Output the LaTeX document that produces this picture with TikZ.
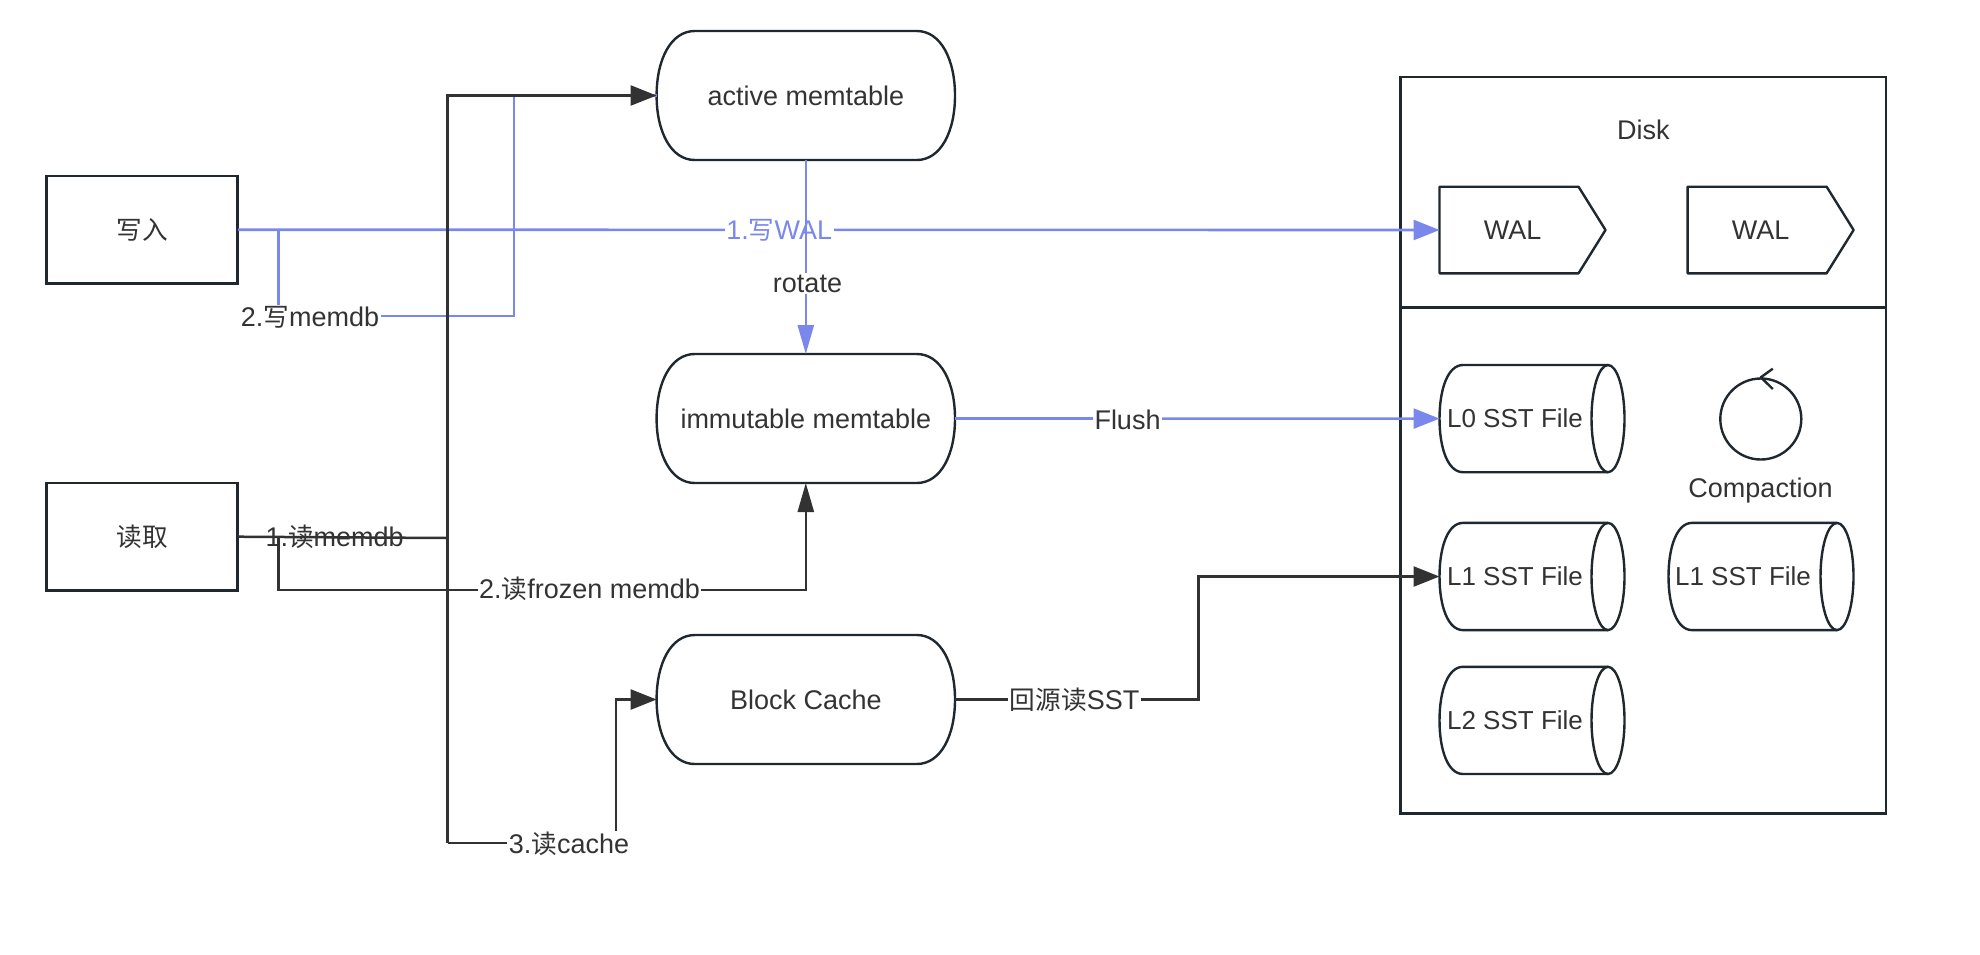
\documentclass[tikz,border=0pt]{standalone}
\usepackage{fontspec}
\setmainfont{Liberation Sans}
\newfontfamily\cjk[Scale=0.95]{Noto Sans CJK SC}
\usetikzlibrary{arrows.meta,calc}
\definecolor{outl}{HTML}{20282F}
\definecolor{blk}{HTML}{323232}
\definecolor{blu}{HTML}{7A88EE}
\definecolor{txt}{HTML}{333333}
\tikzset{
  base/.style={inner sep=0pt,outer sep=0pt,text=txt,font=\fontsize{27}{32}\selectfont},
  boxnode/.style={base,draw=outl,line width=2.6pt,minimum width=191.5pt,minimum height=107.5pt},
  pillnode/.style={base,minimum width=298.4pt,minimum height=129pt},
  cylnode/.style={base,minimum width=185pt,minimum height=107.3pt,font=\fontsize{26}{32}\selectfont},
  walnode/.style={base,minimum width=166pt,minimum height=86.6pt},
  outline/.style={draw=outl,line width=2.4pt,line join=round},
  hhead/.style={-{Triangle[length=26pt,width=20pt]}},
  vhead/.style={-{Triangle[length=29pt,width=16pt]}},
  bluplain/.style={draw=blu,line width=2.6pt},
  blkplain/.style={draw=blk,line width=2.5pt},
  edgetext/.style={base,fill=white,inner sep=1.5pt},
  freetext/.style={base}
}
\newcommand{\pillshape}[1]{\begin{scope}[shift={(#1.center)}]
  \draw[outline] (-149.2,0) .. controls (-149.2,-36) and (-135,-64.5) .. (-111,-64.5) -- (111,-64.5)
    .. controls (135,-64.5) and (149.2,-36) .. (149.2,0) .. controls (149.2,36) and (135,64.5) .. (111,64.5)
    -- (-111,64.5) .. controls (-135,64.5) and (-149.2,36) .. (-149.2,0) -- cycle;
\end{scope}}
\newcommand{\cylshape}[1]{\begin{scope}[shift={(#1.center)}]
  \draw[outline] (76,-53.6) -- (-69,-53.6) .. controls (-84,-53.6) and (-92.5,-30) .. (-92.5,0)
    .. controls (-92.5,30) and (-84,53.6) .. (-69,53.6) -- (76,53.6);
  \draw[outline] (76,0) ellipse [x radius=16.5,y radius=53.6];
\end{scope}}
\newcommand{\walshape}[1]{\begin{scope}[shift={(#1.center)}]
  \draw[outline] (-83,-43.3) -- (56,-43.3) -- (83,0) -- (56,43.3) -- (-83,43.3) -- cycle;
\end{scope}}
\begin{document}
\begin{tikzpicture}[x=1pt,y=-1pt]
\useasboundingbox (0,0) rectangle (1980,954);
% nodes
\node[boxnode] (w) at (142,229.7) {{\cjk 写入}};
\node[boxnode] (r) at (142,536.7) {{\cjk 读取}};
\node[pillnode] (act) at (805.8,95.5) {active memtable};
\node[pillnode] (imm) at (805.8,418.5) {immutable memtable};
\node[pillnode] (bc) at (805.8,699.5) {Block Cache};
\pillshape{act}\pillshape{imm}\pillshape{bc}
% disk
\node[base,draw=outl,line width=2.4pt,minimum width=485.4pt,minimum height=736.7pt] (disk) at (1643.1,445.2) {};
\coordinate (dl) at (1400.4,307.3);
\coordinate (dr) at (1885.8,307.3);
\draw[outline] (dl) -- (dr);
\node[freetext] (dt) at (1643.4,130) {Disk};
\node[walnode] (wal1) at (1522.5,230) {\raisebox{-1.2pt}{WAL}\hspace*{20pt}};
\node[walnode] (wal2) at (1770.6,230) {\raisebox{-1.2pt}{WAL}\hspace*{20pt}};
\walshape{wal1}\walshape{wal2}
\node[cylnode] (l0) at (1532,418.6) {L0 SST File\hspace*{34pt}};
\node[cylnode] (l1) at (1532,576.5) {L1 SST File\hspace*{34pt}};
\node[cylnode] (l1b) at (1761,576.5) {L1 SST File\hspace*{36pt}};
\node[cylnode] (l2) at (1532,720.4) {L2 SST File\hspace*{34pt}};
\cylshape{l0}\cylshape{l1}\cylshape{l1b}\cylshape{l2}
\node[circle,draw=outl,line width=2.4pt,minimum size=81pt,inner sep=0pt] (cmp) at (1760.8,419) {};
\coordinate (ca) at (1772.8,368.7);
\coordinate (cb) at (1772.8,389);
\draw[outline] (ca) -- (cmp.north) -- (cb);
\node[freetext] (ct) at (1760.5,490.5) {Compaction};
% helper points
\coordinate (wj) at (278.4,229.7);
\coordinate (wc) at (514,316);
\coordinate (rj) at (278.4,537);
\coordinate (rc) at (278.4,589.8);
\coordinate (trunk) at (447.6,538);
\coordinate (trunkb) at (447.6,843);
\coordinate (cc) at (616,843);
\coordinate (sx) at (1198.3,640);
% blue connectors
\draw[bluplain,hhead] (w.east) -- (wal1.west) node[edgetext,text=blu,pos=0.4506] (lw) {1.{\cjk 写}WAL};
\draw[bluplain] (wj) |- (wc) -- (wc |- act.west) -- (act.west);
\node[edgetext] (lm) at (310,317.5) {2.{\cjk 写}memdb};
\draw[bluplain,vhead] (act.south) -- (imm.north);
\node[edgetext] (lrot) at (807.5,283.5) {rotate};
\draw[bluplain,hhead] (imm.east) -- (l0.west);
\node[edgetext] (lf) at (1127.5,420) {Flush};
% black connectors
\draw[blkplain,hhead] (trunkb) -- (trunk) -- (trunk |- act.west) -- (act.west);
\draw[blkplain] (r.east) -- (trunk);
\node[freetext] (lr1) at (334.6,537) {1.{\cjk 读}memdb};
\draw[blkplain,vhead] (rj) -- (rc) -| (imm.south);
\node[edgetext] (lr2) at (589.6,589) {2.{\cjk 读}frozen memdb};
\draw[blkplain,hhead] (trunkb) -- (cc) |- (bc.west);
\node[edgetext] (lr3) at (569,844) {3.{\cjk 读}cache};
\draw[blkplain,hhead] (bc.east) -| (sx) |- (l1.west);
\node[edgetext] (ls) at (1074.6,699.5) {{\cjk 回源读}SST};
\end{tikzpicture}
\end{document}
